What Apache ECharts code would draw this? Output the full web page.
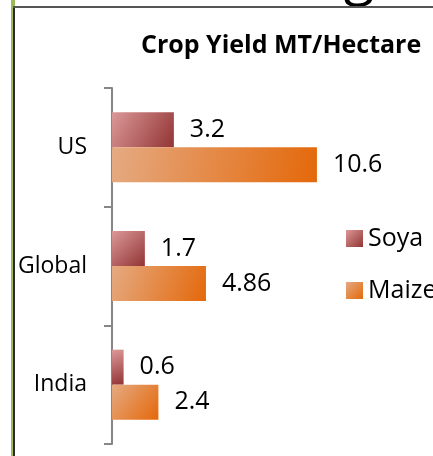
<!DOCTYPE html>
<html>
<head>
<meta charset="utf-8">
<script src="https://cdn.jsdelivr.net/npm/echarts@6/dist/echarts.min.js"></script>
<style>
html,body{margin:0;padding:0;background:#fff;}
#c{width:433px;height:456px;}
</style>
</head>
<body>
<div id="c"></div>
<script>
const categories = ['US', 'Global', 'India'];
const seriesNames = ['Soya', 'Maize'];
const soyaValues = [3.2, 1.7, 0.6];
const maizeValues = [10.6, 4.86, 2.4];
const titleText = 'Crop Yield MT/Hectare';

const FONT = '"Open Sans", sans-serif';

function grad(c0, c1) {
  return new echarts.graphic.LinearGradient(0, 0, 1, 1, [
    { offset: 0, color: c0 },
    { offset: 1, color: c1 }
  ]);
}

const chart = echarts.init(document.getElementById('c'), null, { renderer: 'canvas' });

const labelStyle = {
  show: true,
  position: 'right',
  distance: 16,
  color: '#000',
  fontFamily: FONT,
  fontSize: 25
};

chart.setOption({
  animation: false,
  backgroundColor: '#fff',
  title: {
    text: titleText,
    left: 141,
    top: 33,
    padding: 0,
    textStyle: { fontFamily: FONT, fontWeight: 'bold', fontSize: 25, color: '#000' }
  },
  legend: {
    orient: 'vertical',
    left: 346,
    top: 226,
    padding: 0,
    itemWidth: 17,
    itemHeight: 17,
    itemGap: 27,
    icon: 'rect',
    textStyle: { fontFamily: FONT, fontSize: 25, color: '#000', padding: [0, 0, 0, 0] },
    data: seriesNames
  },
  grid: { left: 112, right: 89, top: 88, bottom: 12, containLabel: false },
  xAxis: {
    type: 'value',
    min: 0,
    max: 12,
    show: false
  },
  yAxis: {
    type: 'category',
    inverse: true,
    data: categories,
    axisLine: { show: true, lineStyle: { color: '#868686', width: 2 } },
    axisTick: { show: true, length: 8, lineStyle: { color: '#868686', width: 2 } },
    axisLabel: { margin: 25, color: '#000', fontFamily: FONT, fontSize: 23 },
    splitLine: { show: false }
  },
  series: [
    {
      name: seriesNames[0],
      type: 'bar',
      data: soyaValues,
      barWidth: 35,
      barGap: '0%',
      itemStyle: { color: grad('#dc9898', '#923434') },
      label: labelStyle
    },
    {
      name: seriesNames[1],
      type: 'bar',
      data: maizeValues,
      barWidth: 35,
      barGap: '0%',
      itemStyle: { color: grad('#e5aa82', '#e4680a') },
      label: labelStyle
    }
  ],
  graphic: [
    { type: 'text', x: 359, y: -51, style: { text: 'g', fontFamily: FONT, fontSize: 56, fill: '#000', align: 'center', verticalAlign: 'top' }, silent: true, z: -1 },
    { type: 'rect', left: 0, top: 7, shape: { width: 433, height: 449 }, style: { fill: '#fff' }, silent: true, z: -0.5 },
    { type: 'rect', left: 11, top: 0, shape: { width: 4, height: 456 }, style: { fill: '#9bbb59' }, silent: true },
    { type: 'rect', left: 13, top: 7, shape: { width: 2, height: 449 }, style: { fill: '#2a2a2a' }, silent: true },
    { type: 'rect', left: 13, top: 6, shape: { width: 420, height: 2 }, style: { fill: '#555' }, silent: true }
  ]
});
</script>
</body>
</html>
